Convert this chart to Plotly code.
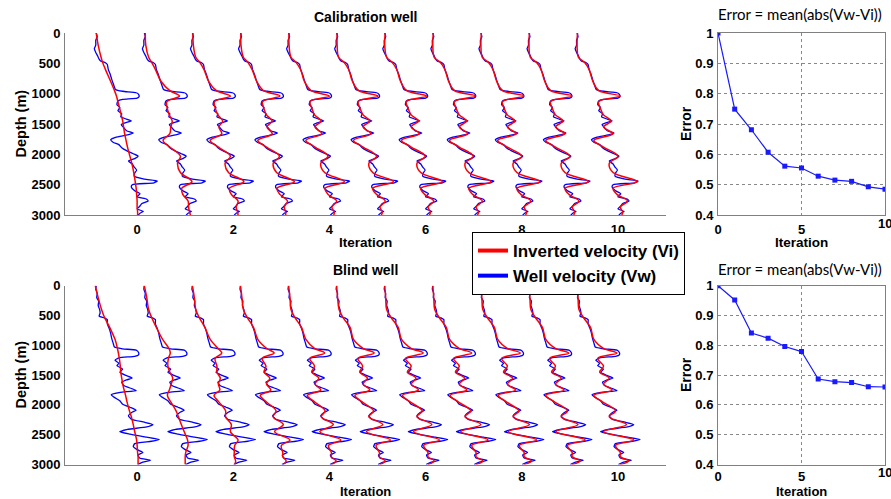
import plotly.graph_objects as go

# ---------------- data ----------------
iterations = list(range(11))

# well velocity log (normalised, relative to iteration position) at key depths
depth_log_cal = [0, 60, 120, 200, 260, 320, 380, 430, 460, 490, 520, 600, 680, 760, 850, 930,
                 960, 985, 1010, 1050, 1075, 1095, 1120, 1180, 1230, 1280, 1330, 1380, 1420,
                 1450, 1480, 1510, 1560, 1610, 1650, 1680, 1720, 1760, 1800, 1840, 1890, 1940,
                 1990, 2030, 2070, 2110, 2160, 2210, 2260, 2310, 2360, 2410, 2440, 2470, 2500,
                 2540, 2600, 2650, 2700, 2740, 2770, 2810, 2860, 2900, 2940, 2970, 3000]
blue_cal = [-0.85, -0.83, -0.86, -0.86, -0.89, -0.86, -0.82, -0.79, -0.76, -0.66, -0.62, -0.60,
            -0.56, -0.53, -0.49, -0.45, -0.30, -0.02, 0.03, 0.04, 0.00, -0.30, -0.40, -0.42,
            -0.36, -0.40, -0.32, -0.34, -0.22, -0.12, -0.25, -0.33, -0.28, -0.22, -0.08, -0.20,
            -0.45, -0.55, -0.50, -0.38, -0.32, -0.22, -0.08, 0.02, -0.05, -0.18, -0.10, -0.06,
            -0.01, -0.05, -0.06, 0.15, 0.42, 0.35, -0.10, -0.12, -0.05, 0.06, 0.00, 0.20, 0.23,
            0.10, 0.05, 0.00, 0.13, 0.06, 0.02]

depth_log_blind = [0, 60, 130, 200, 260, 330, 400, 460, 510, 540, 570, 640, 720, 800, 880, 960,
                   1030, 1060, 1080, 1120, 1160, 1185, 1210, 1250, 1300, 1340, 1400, 1450, 1500,
                   1550, 1580, 1620, 1680, 1730, 1760, 1790, 1830, 1870, 1930, 1990, 2040, 2090,
                   2130, 2180, 2240, 2290, 2330, 2370, 2410, 2450, 2490, 2540, 2580, 2610, 2650,
                   2700, 2750, 2800, 2840, 2890, 2930, 2960, 3000]
blue_blind = [-0.85, -0.86, -0.83, -0.84, -0.80, -0.81, -0.78, -0.77, -0.79, -0.68, -0.62, -0.62,
              -0.58, -0.55, -0.53, -0.50, -0.47, -0.30, -0.02, 0.03, 0.03, -0.05, -0.38, -0.46,
              -0.38, -0.42, -0.30, -0.36, -0.25, -0.10, -0.22, -0.32, -0.27, -0.10, -0.02, -0.35,
              -0.54, -0.48, -0.36, -0.30, -0.15, -0.02, -0.12, -0.18, -0.12, 0.15, 0.33, 0.20,
              -0.20, -0.36, -0.15, 0.20, 0.46, 0.30, -0.05, -0.08, 0.00, 0.12, 0.02, 0.05, 0.28,
              0.12, 0.01]

# inverted velocity, per iteration, at key depths
depth_key_cal = [0, 200, 400, 480, 600, 800, 950, 1040, 1130, 1250, 1350, 1450, 1550,
                 1660, 1770, 1880, 2030, 2150, 2300, 2450, 2560, 2660, 2770, 2870, 2950, 3000]
red_cal = [
    [-0.85, -0.81, -0.75, -0.72, -0.66, -0.55, -0.47, -0.43, -0.40, -0.36, -0.33, -0.30, -0.28, -0.26, -0.23, -0.20, -0.15, -0.11, -0.07, -0.04, -0.02, -0.01, 0.00, 0.00, 0.01, 0.01],
    [-0.83, -0.82, -0.76, -0.70, -0.62, -0.50, -0.32, -0.12, -0.38, -0.37, -0.33, -0.27, -0.30, -0.32, -0.46, -0.32, -0.10, -0.16, -0.10, 0.14, -0.07, -0.05, 0.06, 0.07, 0.09, 0.11],
    [-0.84, -0.83, -0.78, -0.70, -0.61, -0.51, -0.35, -0.06, -0.39, -0.37, -0.32, -0.22, -0.30, -0.24, -0.48, -0.31, -0.06, -0.17, -0.10, 0.22, -0.08, -0.04, 0.10, 0.06, 0.09, 0.10],
    [-0.84, -0.84, -0.79, -0.70, -0.61, -0.51, -0.37, -0.03, -0.39, -0.36, -0.31, -0.19, -0.30, -0.19, -0.49, -0.31, -0.04, -0.17, -0.10, 0.27, -0.09, -0.03, 0.13, 0.06, 0.09, 0.09],
    [-0.84, -0.84, -0.80, -0.70, -0.60, -0.52, -0.38, 0.00, -0.40, -0.36, -0.31, -0.17, -0.30, -0.16, -0.49, -0.30, -0.03, -0.18, -0.10, 0.31, -0.09, -0.03, 0.15, 0.05, 0.10, 0.09],
    [-0.84, -0.84, -0.81, -0.70, -0.60, -0.52, -0.39, 0.01, -0.40, -0.36, -0.30, -0.16, -0.30, -0.14, -0.50, -0.30, -0.02, -0.18, -0.10, 0.33, -0.10, -0.02, 0.16, 0.05, 0.10, 0.08],
    [-0.84, -0.85, -0.81, -0.70, -0.60, -0.52, -0.39, 0.02, -0.40, -0.36, -0.30, -0.15, -0.30, -0.13, -0.50, -0.30, -0.01, -0.18, -0.10, 0.35, -0.10, -0.02, 0.17, 0.05, 0.10, 0.08],
    [-0.84, -0.85, -0.82, -0.70, -0.60, -0.52, -0.40, 0.03, -0.40, -0.36, -0.30, -0.15, -0.30, -0.12, -0.50, -0.30, -0.01, -0.18, -0.10, 0.36, -0.10, -0.02, 0.18, 0.05, 0.10, 0.08],
    [-0.84, -0.85, -0.82, -0.70, -0.60, -0.52, -0.40, 0.04, -0.40, -0.36, -0.30, -0.14, -0.30, -0.11, -0.50, -0.30, 0.00, -0.18, -0.10, 0.38, -0.10, -0.02, 0.19, 0.05, 0.10, 0.08],
    [-0.84, -0.85, -0.82, -0.70, -0.60, -0.52, -0.40, 0.04, -0.40, -0.36, -0.30, -0.14, -0.30, -0.10, -0.50, -0.30, 0.00, -0.18, -0.10, 0.39, -0.10, -0.02, 0.19, 0.05, 0.10, 0.08],
    [-0.84, -0.85, -0.82, -0.70, -0.60, -0.52, -0.40, 0.05, -0.40, -0.36, -0.30, -0.14, -0.30, -0.10, -0.50, -0.30, 0.00, -0.18, -0.10, 0.40, -0.10, -0.02, 0.20, 0.05, 0.10, 0.08],
]

depth_key_blind = [0, 200, 400, 530, 700, 900, 1050, 1130, 1220, 1350, 1450, 1550, 1650,
                   1750, 1840, 1950, 2100, 2200, 2330, 2450, 2590, 2680, 2800, 2870, 2940, 3000]
red_blind = [
    [-0.87, -0.81, -0.74, -0.68, -0.57, -0.46, -0.41, -0.39, -0.37, -0.35, -0.34, -0.32, -0.30, -0.27, -0.24, -0.21, -0.16, -0.12, -0.08, -0.05, -0.01, 0.00, 0.01, 0.02, 0.02, 0.02],
    [-0.85, -0.80, -0.76, -0.70, -0.60, -0.47, -0.34, -0.31, -0.35, -0.36, -0.32, -0.26, -0.29, -0.33, -0.37, -0.30, -0.19, -0.14, -0.08, -0.02, 0.05, 0.06, 0.01, 0.00, 0.00, 0.00],
    [-0.85, -0.81, -0.78, -0.71, -0.59, -0.48, -0.32, -0.24, -0.38, -0.34, -0.34, -0.27, -0.31, -0.28, -0.40, -0.30, -0.16, -0.16, -0.04, -0.06, 0.10, 0.03, 0.02, 0.02, 0.05, 0.03],
    [-0.85, -0.82, -0.79, -0.71, -0.58, -0.49, -0.31, -0.15, -0.40, -0.32, -0.36, -0.24, -0.31, -0.22, -0.44, -0.31, -0.11, -0.17, 0.04, -0.14, 0.18, 0.00, 0.03, 0.03, 0.10, 0.04],
    [-0.85, -0.82, -0.80, -0.72, -0.58, -0.49, -0.31, -0.10, -0.41, -0.31, -0.37, -0.22, -0.30, -0.18, -0.46, -0.31, -0.09, -0.17, 0.08, -0.20, 0.24, -0.02, 0.04, 0.04, 0.14, 0.04],
    [-0.85, -0.83, -0.80, -0.72, -0.57, -0.50, -0.30, -0.07, -0.41, -0.31, -0.37, -0.21, -0.30, -0.16, -0.47, -0.32, -0.08, -0.18, 0.11, -0.23, 0.27, -0.03, 0.04, 0.04, 0.16, 0.05],
    [-0.85, -0.83, -0.81, -0.72, -0.57, -0.50, -0.30, -0.05, -0.42, -0.30, -0.38, -0.20, -0.30, -0.15, -0.48, -0.32, -0.07, -0.18, 0.13, -0.25, 0.29, -0.04, 0.05, 0.05, 0.18, 0.05],
    [-0.85, -0.83, -0.81, -0.72, -0.57, -0.50, -0.30, -0.04, -0.42, -0.30, -0.38, -0.19, -0.30, -0.14, -0.49, -0.32, -0.06, -0.18, 0.15, -0.27, 0.30, -0.04, 0.05, 0.05, 0.19, 0.05],
    [-0.85, -0.83, -0.81, -0.72, -0.57, -0.50, -0.30, -0.03, -0.42, -0.30, -0.38, -0.19, -0.30, -0.13, -0.49, -0.32, -0.06, -0.18, 0.16, -0.28, 0.31, -0.05, 0.05, 0.05, 0.20, 0.05],
    [-0.85, -0.83, -0.81, -0.72, -0.57, -0.50, -0.30, -0.02, -0.42, -0.30, -0.38, -0.18, -0.30, -0.12, -0.50, -0.32, -0.05, -0.18, 0.17, -0.29, 0.32, -0.05, 0.05, 0.05, 0.21, 0.05],
    [-0.85, -0.83, -0.81, -0.72, -0.57, -0.50, -0.30, -0.02, -0.42, -0.30, -0.38, -0.18, -0.30, -0.12, -0.50, -0.32, -0.05, -0.18, 0.18, -0.30, 0.33, -0.05, 0.05, 0.05, 0.22, 0.05],
]

err_iter = list(range(11))
err_cal = [1.0, 0.749, 0.681, 0.607, 0.561, 0.555, 0.528, 0.515, 0.511, 0.493, 0.485]
err_blind = [1.0, 0.952, 0.841, 0.824, 0.796, 0.779, 0.687, 0.678, 0.675, 0.661, 0.660]

depth_ticks = [0, 500, 1000, 1500, 2000, 2500, 3000]
iter_ticks = [0, 2, 4, 6, 8, 10]
err_xticks = [0, 5, 10]
err_yticks = [0.4, 0.5, 0.6, 0.7, 0.8, 0.9, 1.0]
err_yticktext = ["0.4", "0.5", "0.6", "0.7", "0.8", "0.9", "1"]

# ---------------- styling ----------------
W, H = 891, 499
RED = "#ff0000"
BLUE = "#0000ff"
AXC = "#808080"
FONT = "Liberation Sans, Arial, sans-serif"
TFONT = dict(family=FONT, size=13, color="black", weight="bold")

def px_x(p):
    return p / W

def px_y(p):
    return 1 - p / H

fig = go.Figure()

panels = [
    (depth_log_cal, blue_cal, depth_key_cal, red_cal, "x", "y"),
    (depth_log_blind, blue_blind, depth_key_blind, red_blind, "x3", "y3"),
]
for dl, blue, dk, reds, xa, ya in panels:
    for i in iterations:
        fig.add_trace(go.Scatter(x=[i + v for v in blue], y=dl, mode="lines",
                                 line=dict(color=BLUE, width=1.3, shape="spline", smoothing=0.5),
                                 xaxis=xa, yaxis=ya, showlegend=False, hoverinfo="skip"))
    for i in iterations:
        fig.add_trace(go.Scatter(x=[i + v for v in reds[i]], y=dk, mode="lines",
                                 line=dict(color=RED, width=1.5, shape="spline", smoothing=1.0),
                                 xaxis=xa, yaxis=ya, showlegend=False, hoverinfo="skip"))

for errs, xa, ya in [(err_cal, "x2", "y2"), (err_blind, "x4", "y4")]:
    fig.add_trace(go.Scatter(x=err_iter, y=errs, mode="lines+markers",
                             line=dict(color="#1a1aff", width=1.2),
                             marker=dict(symbol="square", size=5, color="#1a1aff"),
                             xaxis=xa, yaxis=ya, showlegend=False, hoverinfo="skip"))

# legend entries
fig.add_trace(go.Scatter(x=[None], y=[None], mode="lines", line=dict(color=RED, width=4),
                         name="Inverted velocity (Vi)", xaxis="x", yaxis="y"))
fig.add_trace(go.Scatter(x=[None], y=[None], mode="lines", line=dict(color=BLUE, width=4),
                         name="Well velocity (Vw)", xaxis="x", yaxis="y"))

top_dom = [px_y(215), px_y(33)]
bot_dom = [px_y(464.5), px_y(285.7)]
left_dom = [px_x(65), px_x(666)]
right_dom = [px_x(718), px_x(885)]

def left_x(anchor, tl):
    return dict(domain=left_dom, range=[-1.5, 11], tickvals=iter_ticks, showline=True,
                linecolor=AXC, linewidth=1, showgrid=False, zeroline=False,
                ticks="outside", ticklen=tl, tickcolor="rgba(0,0,0,0)", tickfont=TFONT,
                anchor=anchor, automargin=False)

def left_y(dom, anchor):
    return dict(domain=dom, range=[3000, 0], tickvals=depth_ticks, showline=True,
                linecolor=AXC, linewidth=1, showgrid=False, zeroline=False,
                ticks="outside", ticklen=1, tickcolor="rgba(0,0,0,0)", tickfont=TFONT,
                anchor=anchor, automargin=False)

def right_x(anchor, tl):
    return dict(domain=right_dom, range=[0, 10], tickvals=err_xticks, showline=True,
                mirror=True, linecolor=AXC, linewidth=1, showgrid=True,
                gridcolor="#888888", griddash="dot", gridwidth=1, zeroline=False,
                ticks="outside", ticklen=tl, tickcolor="rgba(0,0,0,0)", tickfont=TFONT,
                anchor=anchor, automargin=False)

def right_y(dom, anchor):
    return dict(domain=dom, range=[0.4, 1.0], tickvals=err_yticks, ticktext=err_yticktext,
                showline=True, mirror=True, linecolor=AXC, linewidth=1, showgrid=True,
                gridcolor="#888888", griddash="dot", gridwidth=1, zeroline=False,
                ticks="outside", ticklen=1, tickcolor="rgba(0,0,0,0)", tickfont=TFONT,
                anchor=anchor, automargin=False)

def ann(text, x, y, size=14, angle=0, family=FONT, weight="bold"):
    return dict(text=text, x=px_x(x), y=px_y(y), xref="paper", yref="paper",
                xanchor="center", yanchor="middle", showarrow=False, textangle=angle,
                borderpad=0,
                font=dict(family=family, size=size, color="black", weight=weight))

annotations = [
    ann("Calibration well", 365.5, 17),
    ann("Iteration", 365.5, 242.5, size=13.5),
    ann("Depth (m)", 20.5, 124, size=14.5, angle=-90),
    ann("Blind well", 365.5, 270),
    ann("Iteration", 365.5, 491.5, size=13),
    ann("Depth (m)", 20.5, 375, size=14.5, angle=-90),
    ann("Error = mean(abs(Vw-Vi))", 800, 14, size=15, family="Lato, sans-serif", weight="normal"),
    ann("Error = mean(abs(Vw-Vi))", 800, 269, size=15, family="Lato, sans-serif", weight="normal"),
    ann("Iteration", 801, 242.5, size=13.5),
    ann("Iteration", 801, 491.5, size=13),
    ann("Error", 686, 124, angle=-90),
    ann("Error", 686, 375, angle=-90),
]
# right-edge tick label "10" of the error axes (cut by the figure edge, as in the original)
for xr, ty in [("x2", 223), ("x4", 472.5)]:
    annotations.append(dict(text=str(err_xticks[-1]), x=err_xticks[-1], xref=xr,
                            y=px_y(ty), yref="paper", xanchor="center", yanchor="middle",
                            showarrow=False, borderpad=0, font=TFONT))

fig.update_layout(
    width=W, height=H,
    margin=dict(l=0, r=0, t=0, b=0),
    paper_bgcolor="white", plot_bgcolor="white",
    xaxis=left_x("y", 2), yaxis=left_y(top_dom, "x"),
    xaxis2=right_x("y2", 2), yaxis2=right_y(top_dom, "x2"),
    xaxis3=left_x("y3", 0), yaxis3=left_y(bot_dom, "x3"),
    xaxis4=right_x("y4", 0), yaxis4=right_y(bot_dom, "x4"),
    annotations=annotations,
    showlegend=True,
    legend=dict(x=px_x(472), y=px_y(232), xanchor="left", yanchor="top",
                bordercolor="black", borderwidth=1, bgcolor="white",
                font=dict(family=FONT, size=17, color="black", weight="bold"),
                itemwidth=30, tracegroupgap=0),
)

fig.write_html("out.html")
